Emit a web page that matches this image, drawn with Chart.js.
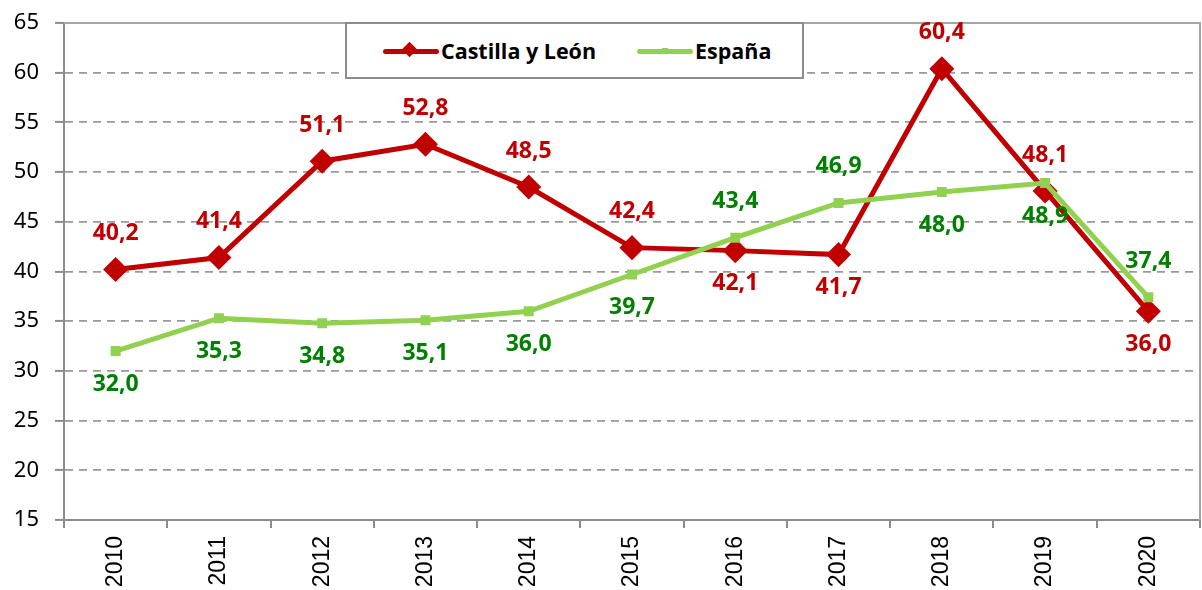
<!DOCTYPE html>
<html><head><meta charset="utf-8">
<script src="https://cdn.jsdelivr.net/npm/chart.js@4/dist/chart.umd.min.js"></script>
<style>
html,body{margin:0;padding:0;background:#fff;}
#wrap{position:relative;width:1202px;height:590px;}
#legend{position:absolute;left:345px;top:22px;width:459px;height:57px;border:2px solid #8c8c8c;background:#fff;box-sizing:border-box;font-family:"Open Sans","Noto Sans",sans-serif;font-weight:bold;font-size:21.5px;color:#000;}
.li{position:absolute;top:12px;display:flex;align-items:center;}
.sw{position:relative;width:56px;height:20px;margin-right:2px;}
.sw .ln{position:absolute;left:0;right:0;top:8px;height:5px;border-radius:3px;}
.sw .mk{position:absolute;}
</style></head>
<body><div id="wrap"><canvas id="c" width="1202" height="590"></canvas>
<div id="legend">
 <div class="li" style="left:36px"><div class="sw"><div class="ln" style="background:#C00000"></div><div class="mk" style="left:21px;top:3px;width:11px;height:11px;background:#C00000;transform:rotate(45deg)"></div></div><span>Castilla y León</span></div>
 <div class="li" style="left:290px"><div class="sw"><div class="ln" style="background:#92D050"></div><div class="mk" style="left:25px;top:7px;width:6px;height:6px;background:#92D050"></div></div><span>España</span></div>
</div></div>
<script>
const categories = ["2010","2011","2012","2013","2014","2015","2016","2017","2018","2019","2020"];
const castillaLeon = [40.2,41.4,51.1,52.8,48.5,42.4,42.1,41.7,60.4,48.1,36.0];
const espana = [32.0,35.3,34.8,35.1,36.0,39.7,43.4,46.9,48.0,48.9,37.4];
const yTicks = [15,20,25,30,35,40,45,50,55,60,65];
const clLabelSide = ["a","a","a","a","a","a","b","b","a","a","b"];
const esLabelSide = ["b","b","b","b","b","b","a","a","b","b","a"];

const labelPlugin = {
  id:'dl',
  afterDatasetsDraw(chart){
    const ctx = chart.ctx;
    ctx.save();
    ctx.font = 'bold 23px "Open Sans","Noto Sans",sans-serif';
    ctx.textAlign='center'; ctx.textBaseline='middle';
    chart.data.datasets.forEach((ds,i)=>{
      const meta = chart.getDatasetMeta(i);
      meta.data.forEach((pt,j)=>{
        const side = ds.labelSide[j];
        const y = pt.y + (side==='a' ? -36 : 33);
        ctx.fillStyle = ds.labelColor;
        ctx.fillText(ds.data[j].toFixed(1).replace('.',','), pt.x, y);
      });
    });
    ctx.restore();
  }
};
const borderPlugin = {
  id:'pb',
  beforeDatasetsDraw(chart){
    const a = chart.chartArea, ctx = chart.ctx;
    ctx.save(); ctx.strokeStyle='#a6a6a6'; ctx.lineWidth=2;
    ctx.beginPath(); ctx.moveTo(a.left,a.top); ctx.lineTo(a.right,a.top); ctx.lineTo(a.right,a.bottom); ctx.stroke();
    ctx.restore();
  }
};
const zeroPad = ()=>({left:0,right:0,top:0,bottom:0});

new Chart(document.getElementById('c'),{
  type:'line',
  data:{labels:categories,datasets:[
    {label:'Castilla y León',data:castillaLeon,borderColor:'#C00000',backgroundColor:'#C00000',borderWidth:5,
     pointStyle:'rectRot',pointRadius:9,pointHoverRadius:9,tension:0,labelSide:clLabelSide,labelColor:'#C00000',order:2},
    {label:'España',data:espana,borderColor:'#92D050',backgroundColor:'#92D050',borderWidth:5,
     pointStyle:'rect',pointRadius:3.5,pointHoverRadius:3.5,tension:0,labelSide:esLabelSide,labelColor:'#008000',order:1}
  ]},
  options:{
    responsive:false,animation:false,
    layout:{autoPadding:false,padding:{top:23,right:2,left:0,bottom:0}},
    plugins:{legend:{display:false},tooltip:{enabled:false}},
    scales:{
      x:{offset:true,
         grid:{offset:true,drawOnChartArea:false,drawTicks:true,tickLength:8,color:'#8c8c8c',lineWidth:2},
         border:{color:'#8c8c8c',width:2},
         ticks:{maxRotation:90,minRotation:90,padding:8,color:'#000',font:{family:'"Liberation Sans",Arial,sans-serif',size:23}},
         afterFit(s){s.height=70;s.paddingLeft=0;s.paddingRight=0;s.getPadding=zeroPad;}},
      y:{min:15,max:65,
         afterBuildTicks(s){s.ticks=yTicks.map(v=>({value:v}));},
         grid:{color:'#999999',lineWidth:1.8,tickLength:9,tickBorderDash:[],tickColor:'#8c8c8c',tickWidth:2},
         border:{color:'#8c8c8c',width:2,dash:[8,6]},
         ticks:{color:'#000',padding:16,font:{family:'"Noto Sans","Open Sans",sans-serif',size:22}},
         afterFit(s){s.width=64;s.paddingTop=0;s.paddingBottom=0;s.getPadding=zeroPad;}}
    }
  },
  plugins:[labelPlugin,borderPlugin]
});
</script></body></html>
